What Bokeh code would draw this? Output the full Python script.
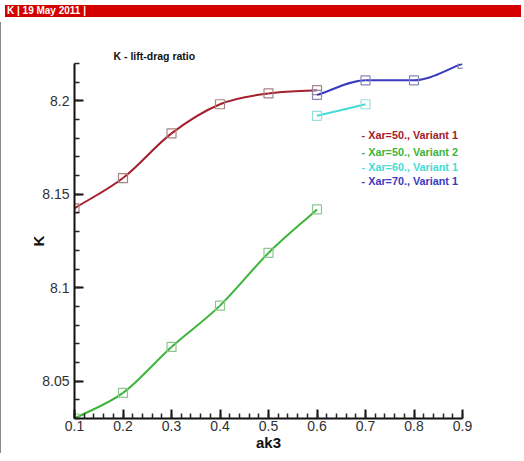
import numpy as np
from bokeh.plotting import figure
from bokeh.models import FixedTicker, Label, Div
from bokeh.layouts import column
from bokeh.embed import file_html
from bokeh.resources import INLINE

# ---- data ----
ak3_xar50_v1 = [0.1, 0.2, 0.3, 0.4, 0.5, 0.6]
k_xar50_v1 = [8.1425, 8.1587, 8.1826, 8.1982, 8.2040, 8.2057]
ak3_xar50_v2 = [0.1, 0.2, 0.3, 0.4, 0.5, 0.6]
k_xar50_v2 = [8.0300, 8.0437, 8.0683, 8.0904, 8.1186, 8.1419]
ak3_xar60_v1 = [0.6, 0.7]
k_xar60_v1 = [8.1920, 8.1982]
ak3_xar70_v1 = [0.6, 0.7, 0.8, 0.9]
k_xar70_v1 = [8.2032, 8.2110, 8.2110, 8.2198]

series_labels = ["- Xar=50., Variant 1", "- Xar=50., Variant 2",
                 "- Xar=60., Variant 1", "- Xar=70., Variant 1"]

x_ticks = [0.1, 0.2, 0.3, 0.4, 0.5, 0.6, 0.7, 0.8, 0.9]
x_tick_labels = ["0.1", "0.2", "0.3", "0.4", "0.5", "0.6", "0.7", "0.8", "0.9"]
y_ticks = [8.05, 8.1, 8.15, 8.2]
y_tick_labels = ["8.05", "8.1", "8.15", "8.2"]

title_text = "K - lift-drag ratio"
header_text = "K&nbsp;|&nbsp;19 May 2011&nbsp;|"

# ---- styles ----
line_colors = ["#a3202c", "#3cb43c", "#46dcd6", "#3a3ac0"]
marker_colors = ["#a88282", "#8cc88c", "#9adede", "#8888b4"]
FONT = "Liberation Sans"
W = 508

p = figure(width=W, height=431, x_range=(0.1, 0.9), y_range=(8.03, 8.22),
           output_backend="svg", toolbar_location=None,
           min_border_left=73, min_border_right=47,
           min_border_top=41, min_border_bottom=34,
           styles={"border-left": "1px solid #8a8a8a"})
p.outline_line_color = None
p.grid.visible = False
p.background_fill_color = "white"
p.border_fill_color = "white"

p.title.text = title_text
p.title.text_font = FONT
p.title.text_font_size = "10.5px"
p.title.text_font_style = "bold"
p.title.text_color = "#111111"
p.title.align = "left"
p.title.offset = 39
p.title.standoff = 3


def spline_slopes(xs, ys):
    h = np.diff(xs)
    d = np.diff(ys) / h
    n = len(xs)
    m = np.zeros(n)
    m[0] = d[0]
    m[-1] = d[-1]
    for i in range(1, n - 1):
        if d[i - 1] * d[i] <= 0:
            m[i] = 0.0
        else:
            m[i] = (d[i - 1] + d[i]) / 2
    return m


def draw_series(xs, ys, color, mcolor):
    xs = np.asarray(xs, float)
    ys = np.asarray(ys, float)
    m = spline_slopes(xs, ys)
    h = np.diff(xs)
    p.bezier(x0=xs[:-1], y0=ys[:-1], x1=xs[1:], y1=ys[1:],
             cx0=xs[:-1] + h / 3, cy0=ys[:-1] + m[:-1] * h / 3,
             cx1=xs[1:] - h / 3, cy1=ys[1:] - m[1:] * h / 3,
             line_color=color, line_width=2)
    p.scatter(xs, ys, marker="square", size=9, fill_color=None,
              line_color=mcolor, line_width=1.2)


all_series = [(ak3_xar50_v1, k_xar50_v1), (ak3_xar50_v2, k_xar50_v2),
              (ak3_xar60_v1, k_xar60_v1), (ak3_xar70_v1, k_xar70_v1)]
for (xs, ys), c, mc in zip(all_series, line_colors, marker_colors):
    draw_series(xs, ys, c, mc)

# ---- axes ----
x_minor = [round(v, 2) for v in np.arange(0.1, 0.9001, 0.02)]
y_minor = [round(v, 2) for v in np.arange(8.03, 8.2201, 0.01)]
p.xaxis.ticker = FixedTicker(ticks=x_ticks, minor_ticks=x_minor)
p.yaxis.ticker = FixedTicker(ticks=y_ticks, minor_ticks=y_minor)
p.xaxis.major_label_overrides = dict(zip(x_ticks, x_tick_labels))
p.yaxis.major_label_overrides = dict(zip(y_ticks, y_tick_labels))

for ax in (p.xaxis, p.yaxis):
    ax.axis_line_width = 2
    ax.axis_line_color = "#111111"
    ax.major_tick_line_width = 2
    ax.major_tick_line_color = "#111111"
    ax.minor_tick_line_width = 1.5
    ax.minor_tick_line_color = "#222222"
    ax.major_tick_in = 9
    ax.major_tick_out = 0
    ax.minor_tick_in = 5
    ax.minor_tick_out = 0
    ax.major_label_text_font = FONT
    ax.major_label_text_font_size = "14px"
    ax.major_label_text_color = "#303030"
    ax.axis_label_text_font = FONT
    ax.axis_label_text_font_size = "15px"
    ax.axis_label_text_font_style = "bold"
    ax.axis_label_text_color = "#111111"

p.xaxis.axis_label = "ak3"
p.yaxis.axis_label = "K"
p.xaxis.major_label_standoff = 2
p.xaxis.axis_label_standoff = 0
p.yaxis.major_label_standoff = 5
p.yaxis.axis_label_standoff = -8

# ---- legend texts ----
legend_y = [8.1815, 8.1727, 8.1647, 8.1569]
for lab, c, yy in zip(series_labels, line_colors, legend_y):
    p.add_layout(Label(x=0.692, y=yy, text=lab, text_font=FONT,
                       text_font_size="10.8px", text_font_style="bold",
                       text_color=c, text_baseline="middle"))

header = Div(text=header_text, width=516, height=12,
             styles={"background-color": "#d40000", "color": "white",
                     "font-family": FONT, "font-size": "10px",
                     "font-weight": "bold", "line-height": "12px",
                     "padding-left": "2px", "box-sizing": "border-box",
                     "overflow": "hidden"})

layout = column(header, p, spacing=0)
open("out.html", "w").write(file_html(layout, INLINE))
